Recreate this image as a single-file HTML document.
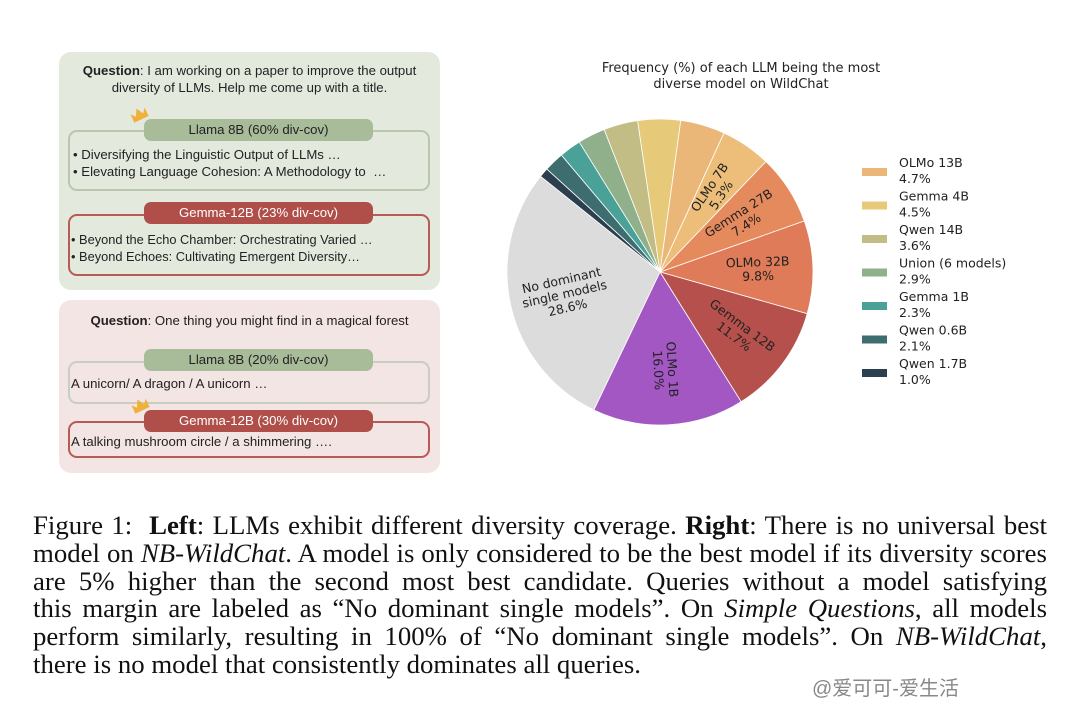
<!DOCTYPE html>
<html><head><meta charset="utf-8">
<style>
body{margin:0;width:1080px;height:711px;background:#fff;position:relative;overflow:hidden;font-family:"Liberation Sans",sans-serif}
.abs{position:absolute}
.panel{position:absolute;left:59px;width:381px;border-radius:12px}
.q{position:absolute;left:0;width:100%;text-align:center;font-size:13.2px;color:#222;line-height:17px}
.box{position:absolute;left:9px;width:362px;border-radius:9px;box-sizing:border-box;background:transparent}
.tag{position:absolute;left:85px;width:229px;height:22px;border-radius:7px;text-align:center;font-size:13.2px;line-height:22px}
.bl{position:absolute;font-size:13.2px;color:#222;line-height:17px;white-space:nowrap}
.cap{position:absolute;left:33px;width:1014px;font-family:"Liberation Serif",serif;font-size:26.8px;line-height:27.8px;color:#111;top:512px}
.cap div{text-align:justify;text-align-last:justify;white-space:nowrap}
.cap div.last{text-align-last:left}
</style></head><body>
<div class="panel" style="top:52px;height:238px;background:#e3eadd">
 <div class="q" style="top:10px"><b>Question</b>: I am working on a paper to improve the output<br>diversity of LLMs. Help me come up with a title.</div>
 <div class="box" style="top:78px;height:61px;border:2px solid #b9c7ae"></div>
 <div class="tag" style="top:67px;background:#a9bc9a;color:#222">Llama 8B (60% div-cov)</div>
 <div class="abs" style="left:72px;top:56px;width:16px;height:12px;background:#f0b13c;transform:rotate(-25deg);clip-path:polygon(0 100%,0 20%,25% 60%,50% 0,75% 60%,100% 20%,100% 100%)"></div>
 <div class="bl" style="left:14px;top:94px">• Diversifying the Linguistic Output of LLMs …<br>• Elevating Language Cohesion: A Methodology to &nbsp;…</div>
 <div class="box" style="top:162px;height:62px;border:2px solid #b85a55"></div>
 <div class="tag" style="top:150px;background:#b04f4a;color:#fff">Gemma-12B (23% div-cov)</div>
 <div class="bl" style="left:12px;top:179px;font-size:12.8px">• Beyond the Echo Chamber: Orchestrating Varied …<br>• Beyond Echoes: Cultivating Emergent Diversity…</div>
</div>
<div class="panel" style="top:300px;height:173px;background:#f3e5e3">
 <div class="q" style="top:12px"><b>Question</b>: One thing you might find in a magical forest</div>
 <div class="box" style="top:61px;height:43px;border:2px solid #c9cfc0"></div>
 <div class="tag" style="top:49px;background:#a9bc9a;color:#222">Llama 8B (20% div-cov)</div>
 <div class="bl" style="left:12px;top:75px">A unicorn/ A dragon / A unicorn …</div>
 <div class="box" style="top:121px;height:37px;border:2px solid #b85a55"></div>
 <div class="tag" style="top:110px;background:#b04f4a;color:#fff">Gemma-12B (30% div-cov)</div>
 <div class="abs" style="left:73px;top:99px;width:16px;height:12px;background:#f0b13c;transform:rotate(-25deg);clip-path:polygon(0 100%,0 20%,25% 60%,50% 0,75% 60%,100% 20%,100% 100%)"></div>
 <div class="bl" style="left:12px;top:133px">A talking mushroom circle / a shimmering ….</div>
</div>

<svg class="abs" style="left:0;top:0" width="1080" height="500" id="chart">
 <text x="741" y="72" text-anchor="middle" font-family="DejaVu Sans,sans-serif" font-size="13" fill="#222">Frequency (%) of each LLM being the most</text>
 <text x="741" y="88" text-anchor="middle" font-family="DejaVu Sans,sans-serif" font-size="13" fill="#222">diverse model on WildChat</text>
 <g id="slices"></g><g id="labels"></g><g id="legend"></g>
</svg>

<div class="cap">
<div>Figure 1: &nbsp;<b>Left</b>: LLMs exhibit different diversity coverage. <b>Right</b>: There is no universal best</div>
<div>model on <i>NB-WildChat</i>. A model is only considered to be the best model if its diversity scores</div>
<div>are 5% higher than the second most best candidate. Queries without a model satisfying</div>
<div>this margin are labeled as “No dominant single models”. On <i>Simple Questions</i>, all models</div>
<div>perform similarly, resulting in 100% of “No dominant single models”. On <i>NB-WildChat</i>,</div>
<div class="last">there is no model that consistently dominates all queries.</div>
</div>
<div class="abs" style="left:812px;top:672px;font-family:'Liberation Sans','Noto Sans CJK SC',sans-serif;font-size:20px;color:#888">@爱可可-爱生活</div>

<script>
const categories=["OLMo 32B","Gemma 12B","OLMo 1B","No dominant single models","Qwen 1.7B","Qwen 0.6B","Gemma 1B","Union (6 models)","Qwen 14B","Gemma 4B","OLMo 13B","OLMo 7B","Gemma 27B"];
const values=[9.8,11.7,16.0,28.6,1.0,2.1,2.3,2.9,3.6,4.5,4.7,5.3,7.4];
const colors=["#df7b58","#b5504c","#a257c2","#dcdcdc","#2b3f4f","#3e6d70","#4aa197","#8fb08a","#c1bd85","#e7c97a","#ebb778","#edbe7a","#e58a5c"];
const sliceLabels=["OLMo 32B\n9.8%","Gemma 12B\n11.7%","OLMo 1B\n16.0%","No dominant\nsingle models\n28.6%","","","","","","","","OLMo 7B\n5.3%","Gemma 27B\n7.4%"];
const legendItems=[10,9,8,7,6,5,4];
const NS="http://www.w3.org/2000/svg";
const cx=660,cy=272,R=153,start=-19.5;
const total=values.reduce((a,b)=>a+b,0);
function ang(v){return v/total*360;}
function pt(a,r){const t=a*Math.PI/180;return [cx+r*Math.cos(t),cy+r*Math.sin(t)];}
let a0=start;
const gS=document.getElementById('slices'),gL=document.getElementById('labels'),gG=document.getElementById('legend');
values.forEach((v,i)=>{
 const a1=a0+ang(v);
 const p0=pt(a0,R),p1=pt(a1,R);
 const p=document.createElementNS(NS,'path');
 p.setAttribute('d',`M${cx},${cy}L${p0[0]},${p0[1]}A${R},${R} 0 ${a1-a0>180?1:0} 1 ${p1[0]},${p1[1]}Z`);
 p.setAttribute('fill',colors[i]);p.setAttribute('stroke','#fff');p.setAttribute('stroke-width','0.8');
 
 
 gS.appendChild(p);
 if(sliceLabels[i]){
  const m=(a0+a1)/2;const c=pt(m,R*0.64);
  let rot=m; if(rot>90&&rot<270) rot-=180;
  const t=document.createElementNS(NS,'text');
  t.setAttribute('transform',`translate(${c[0]},${c[1]}) rotate(${rot})`);
  t.setAttribute('text-anchor','middle');t.setAttribute('font-family','DejaVu Sans,sans-serif');t.setAttribute('font-size','12.5');t.setAttribute('fill','#222');
  
  
  const lines=sliceLabels[i].split('\n');
  lines.forEach((s,k)=>{const ts=document.createElementNS(NS,'tspan');ts.setAttribute('x',0);ts.setAttribute('y',(k-(lines.length-1)/2)*14+4.5);ts.textContent=s;t.appendChild(ts);});
  gL.appendChild(t);
 }
 a0=a1;
});
legendItems.forEach((idx,k)=>{
 const y=172+k*33.5;
 const r=document.createElementNS(NS,'rect');
 r.setAttribute('x',862);r.setAttribute('y',y-4);r.setAttribute('width',25);r.setAttribute('height',8);r.setAttribute('fill',colors[idx]);
 
 
 gG.appendChild(r);
 [categories[idx],values[idx].toFixed(1)+'%'].forEach((s,j)=>{
  const t=document.createElementNS(NS,'text');
  t.setAttribute('x',899);t.setAttribute('y',y-5+j*16);t.setAttribute('font-family','DejaVu Sans,sans-serif');t.setAttribute('font-size','12.5');t.setAttribute('fill','#222');
  
  
  t.textContent=s;gG.appendChild(t);
 });
});
</script>
</body></html>
